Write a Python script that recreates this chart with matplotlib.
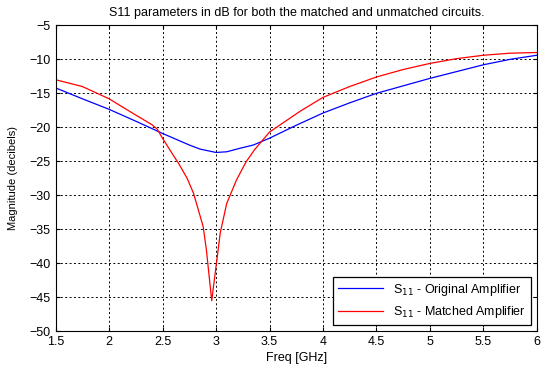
import matplotlib.pyplot as plt

plt.rcParams["font.family"] = ["Liberation Sans", "DejaVu Sans"]
plt.rcParams["font.size"] = 9

# S11 readings (dB) vs frequency (GHz)
freq_orig = [1.5, 1.75, 2.0, 2.25, 2.5, 2.75, 2.85, 3.0, 3.1, 3.22, 3.35, 3.5,
             3.75, 4.0, 4.25, 4.5, 4.75, 5.0, 5.25, 5.5, 5.75, 6.0]
s11_orig = [-14.2, -15.8, -17.35, -19.1, -20.9, -22.6, -23.2, -23.7, -23.6, -23.1,
            -22.6, -21.6, -19.7, -17.9, -16.4, -15.0, -13.9, -12.8, -11.8, -10.8,
            -10.0, -9.4]

freq_match = [1.5, 1.75, 2.0, 2.25, 2.4, 2.45, 2.5, 2.6, 2.65, 2.73, 2.79, 2.88,
              2.91, 2.96, 3.0, 3.04, 3.1, 3.19, 3.28, 3.36, 3.5, 3.64, 3.79, 4.0,
              4.25, 4.5, 4.75, 5.0, 5.25, 5.5, 5.75, 6.0]
s11_match = [-13.0, -14.0, -15.8, -18.2, -19.6, -20.25, -21.6, -24.1, -25.3, -27.5,
             -29.7, -34.6, -38.0, -45.5, -40.5, -35.5, -31.2, -27.8, -25.1, -23.3,
             -20.7, -19.2, -17.6, -15.6, -14.0, -12.6, -11.5, -10.6, -9.9, -9.4,
             -9.1, -9.0]

fig = plt.figure(figsize=(5.41, 3.70), dpi=100)
ax = fig.add_axes([0.1026, 0.1046, 0.89, 0.827])

ax.plot(freq_orig, s11_orig, color="#0000ff", lw=0.9, label="S$_{11}$ - Original Amplifier")
ax.plot(freq_match, s11_match, color="#ff0000", lw=0.9, label="S$_{11}$ - Matched Amplifier")

ax.set_xlim(1.5, 6)
ax.set_ylim(-50, -5)
ax.set_xticks([1.5, 2, 2.5, 3, 3.5, 4, 4.5, 5, 5.5, 6])
ax.set_xticklabels(["1.5", "2", "2.5", "3", "3.5", "4", "4.5", "5", "5.5", "6"])
ax.set_yticks(range(-50, -4, 5))
ax.grid(True, color="black", linestyle=(0, (2, 2.5)), lw=0.7)
ax.tick_params(direction="in", top=True, right=True, length=3, labelsize=9)
for s in ax.spines.values():
    s.set_linewidth(0.8)

ax.set_title("S11 parameters in dB for both the matched and unmatched circuits.",
             fontsize=9, pad=7)
ax.set_xlabel("Freq [GHz]", fontsize=9, labelpad=3)
ax.set_ylabel("Magnitude (decibels)", fontsize=8, labelpad=8)

leg = ax.legend(loc="lower right", fontsize=9, fancybox=False, framealpha=1,
                edgecolor="black", borderaxespad=0.5, handlelength=3.6)
leg.get_frame().set_linewidth(0.9)

fig.savefig("out.png", dpi=100)
